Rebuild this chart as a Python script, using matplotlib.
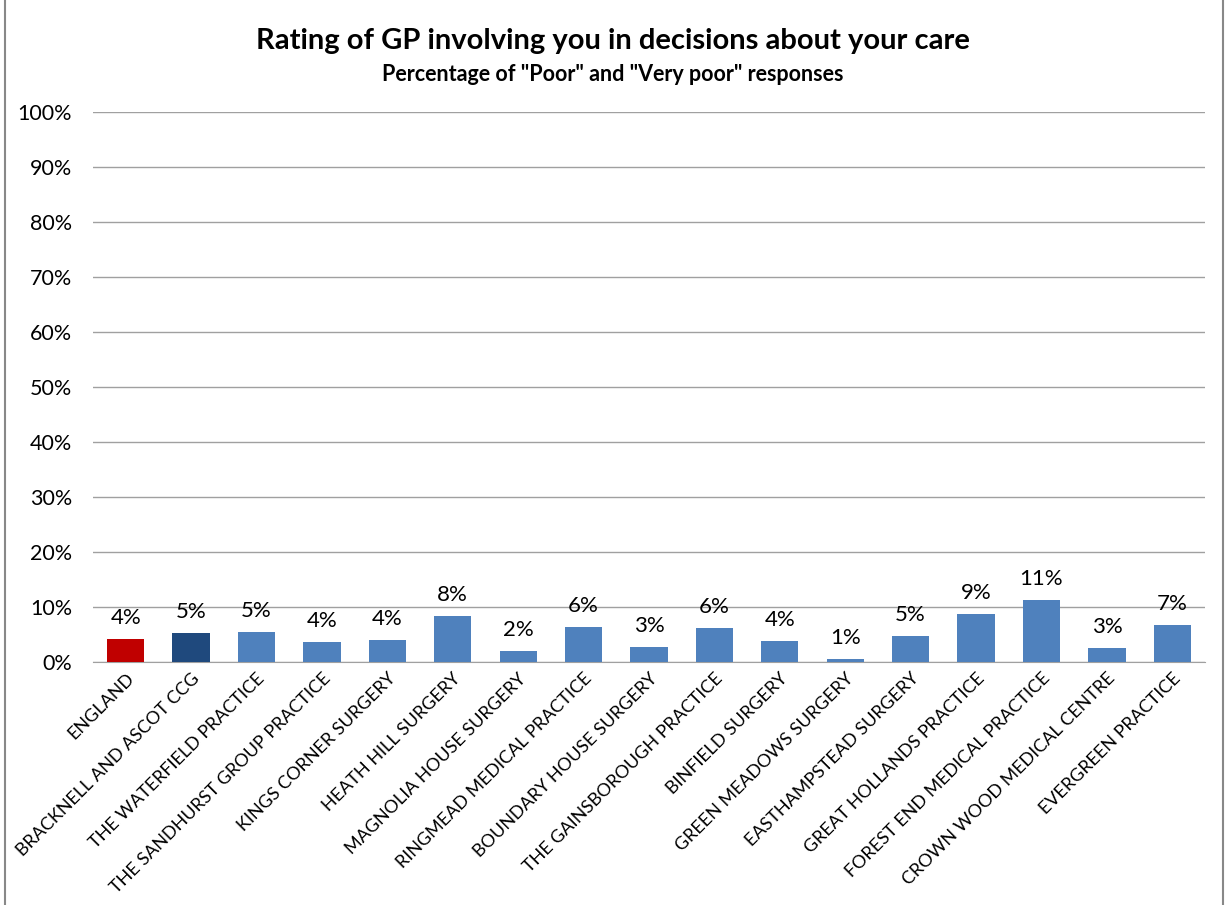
import matplotlib
matplotlib.use("Agg")
import matplotlib.pyplot as plt
from matplotlib.ticker import FuncFormatter
from matplotlib.patches import Rectangle

categories = ["ENGLAND", "BRACKNELL AND ASCOT CCG", "THE WATERFIELD PRACTICE",
              "THE SANDHURST GROUP PRACTICE", "KINGS CORNER SURGERY", "HEATH HILL SURGERY",
              "MAGNOLIA HOUSE SURGERY", "RINGMEAD MEDICAL PRACTICE", "BOUNDARY HOUSE SURGERY",
              "THE GAINSBOROUGH PRACTICE", "BINFIELD SURGERY", "GREEN MEADOWS SURGERY",
              "EASTHAMPSTEAD SURGERY", "GREAT HOLLANDS PRACTICE", "FOREST END MEDICAL PRACTICE",
              "CROWN WOOD MEDICAL CENTRE", "EVERGREEN PRACTICE"]
values = [4.2, 5.3, 5.4, 3.6, 4.0, 8.4, 2.0, 6.4, 2.7, 6.2, 3.8, 0.6, 4.7, 8.7, 11.3, 2.6, 6.7]
bar_colors = ["#C00000", "#1F497D"] + ["#4F81BD"] * 15
ytick_values = list(range(0, 101, 10))

plt.rcParams['font.family'] = ['Lato', 'DejaVu Sans']

fig = plt.figure(figsize=(12.25, 9.05), dpi=100)
ax = fig.add_axes([0.0759, 0.2685, 0.9078, 0.6077])

x = range(len(categories))
ax.bar(x, values, width=0.57, color=bar_colors, zorder=3)
for xi, v in zip(x, values):
    ax.text(xi, v + 2.0, f"{round(v):.0f}%", ha='center', va='bottom', fontsize=16, zorder=4)

ax.set_ylim(0, 100)
ax.set_xlim(-0.5, len(categories) - 0.5)
ax.set_yticks(ytick_values)
ax.yaxis.set_major_formatter(FuncFormatter(lambda v, p: f"{v:.0f}%"))
ax.grid(axis='y', color='#A0A0A0', linewidth=1, zorder=0)
for s in ['top', 'right', 'left']:
    ax.spines[s].set_visible(False)
ax.spines['bottom'].set_color('#A0A0A0')
ax.tick_params(axis='y', length=0, labelsize=15.5, pad=15)
ax.tick_params(axis='x', length=0, labelsize=13, pad=6)
ax.set_xticks(list(x))
ax.set_xticklabels(categories, rotation=45, ha='right', rotation_mode='anchor')

fig.text(0.5, 0.955, "Rating of GP involving you in decisions about your care",
         ha='center', va='center', fontsize=21, fontweight='bold')
fig.text(0.5, 0.918, 'Percentage of "Poor" and "Very poor" responses',
         ha='center', va='center', fontsize=15.5, fontweight='bold')

fig.patches.append(Rectangle((0.004, -0.01), 0.994, 1.02, transform=fig.transFigure,
                             fill=False, edgecolor='#888888', linewidth=1.5))

fig.savefig("out.png", dpi=100)
